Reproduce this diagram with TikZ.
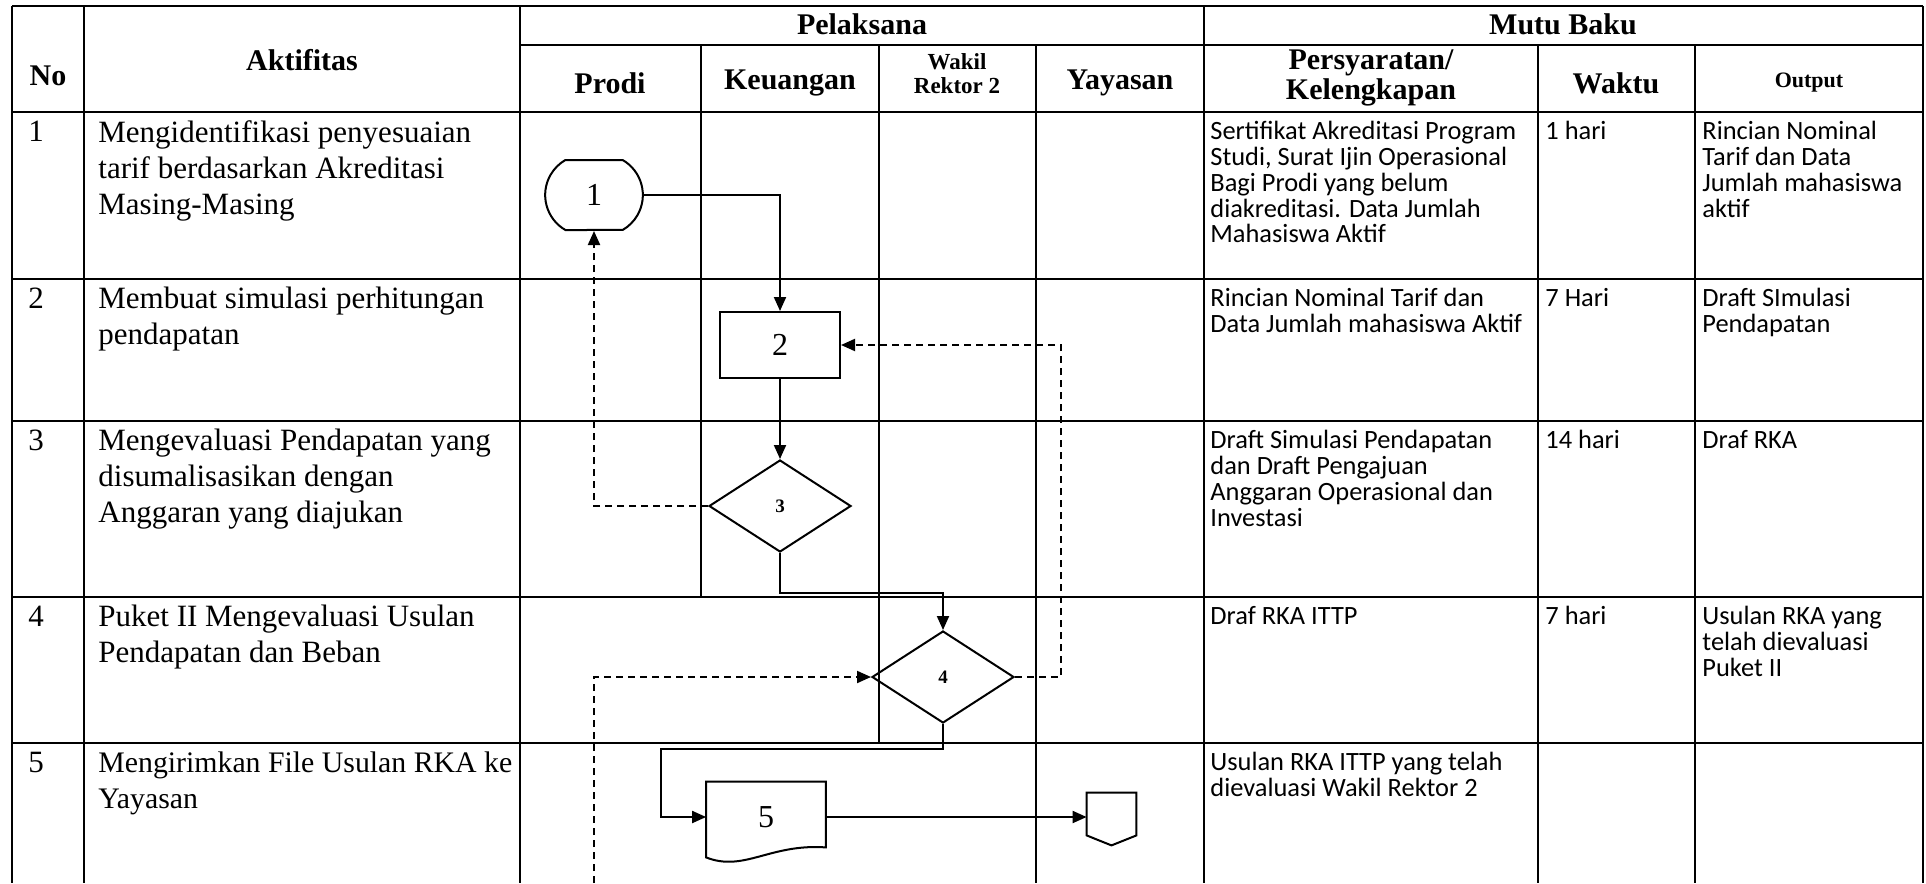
\documentclass[tikz,border=0pt]{standalone}
\usepackage{fontspec}
\setmainfont{Liberation Serif}
\newfontfamily\cbri{Carlito}
\usepackage{tikz}
\usetikzlibrary{arrows.meta,positioning,calc,shapes.geometric,shapes.misc}

\begin{document}
\begin{tikzpicture}[x=0.5pt,y=-0.5pt,
  tbl/.style={line width=1.4pt},
  hd/.style={font=\bfseries\fontsize{15}{13.5}\selectfont,align=center,inner sep=0pt},
  hdsm/.style={font=\bfseries\fontsize{11.5}{12}\selectfont,align=center,inner sep=0pt},
  akt/.style={font=\fontsize{15.5}{18}\selectfont,align=left,anchor=north west,inner sep=0pt},
  mutu/.style={font=\cbri\fontsize{13.2}{12.9}\selectfont,align=left,anchor=north west,inner sep=0pt},
  flow/.style={line width=1pt},
  arr/.style={-{Triangle[length=7pt,width=6pt]}},
  dashln/.style={line width=1pt,dash pattern=on 3.5pt off 2.5pt},
  term/.style={draw,line width=1pt,rounded rectangle,rounded rectangle arc length=120,minimum width=55.5pt,minimum height=35pt,font=\fontsize{16}{18}\selectfont},
  proc/.style={draw,line width=1pt,minimum width=60pt,minimum height=33pt,font=\fontsize{16}{18}\selectfont},
  dec/.style={draw,line width=1pt,diamond,minimum width=71pt,minimum height=46pt,inner sep=0pt,font=\bfseries\fontsize{9.5}{11}\selectfont},
  docbox/.style={minimum width=59.5pt,minimum height=35pt,inner sep=0pt,font=\fontsize{16}{18}\selectfont}]
  \useasboundingbox (0,0) rectangle (1926,883);

  \draw[tbl] (12,6) -- (1923,6);
  \draw[tbl] (520,45) -- (1923,45);
  \foreach \y in {112,279,421,597,743} \draw[tbl] (12,\y) -- (1923,\y);
  \foreach \x in {12,84,520,1204,1923} \draw[tbl] (\x,6) -- (\x,883);
  \foreach \x in {1538,1695} \draw[tbl] (\x,45) -- (\x,883);
  \draw[tbl] (701,45) -- (701,597);
  \draw[tbl] (879,45) -- (879,743);
  \draw[tbl] (1036,45) -- (1036,883);

  \node[hd] (hNo) at (48,76) {No};
  \node[hd] (hAkt) at (302,60) {Aktifitas};
  \node[hd] (hPel) at (862,24) {Pelaksana};
  \node[hd] (hMutu) at (1563,24) {Mutu Baku};
  \node[hd] (hPro) at (610,83) {Prodi};
  \node[hd] (hKeu) at (790,83) {Keuangan};
  \node[hdsm] (hWak) at (957,74) {Wakil\\Rektor 2};
  \node[hd] (hYay) at (1120,83) {Yayasan};
  \node[hd] (hPer) at (1371,78) {Persyaratan/\\Kelengkapan};
  \node[hd] (hWkt) at (1616,83) {Waktu};
  \node[hdsm,font=\bfseries\fontsize{11}{12}\selectfont] (hOut) at (1809,83) {Output};

  \node[akt] (no1) at (28,121) {1};
  \node[akt] (no2) at (28,288) {2};
  \node[akt] (no3) at (28,430) {3};
  \node[akt] (no4) at (28,606) {4};
  \node[akt] (no5) at (28,752) {5};

  \node[akt] (akt1) at (98,120) {Mengidentifikasi penyesuaian\\tarif berdasarkan Akreditasi\\Masing-Masing};
  \node[akt] (akt2) at (98,287) {Membuat simulasi perhitungan\\pendapatan};
  \node[akt] (akt3) at (98,429) {Mengevaluasi Pendapatan yang\\disumalisasikan dengan\\Anggaran yang diajukan};
  \node[akt] (akt4) at (98,605) {Puket II Mengevaluasi Usulan\\Pendapatan dan Beban};
  \node[akt,font=\fontsize{14.9}{18}\selectfont] (akt5) at (98,751) {Mengirimkan File Usulan RKA ke\\Yayasan};

  \node[mutu] (syr1) at (1210,121) {Sertifikat Akreditasi Program\\Studi, Surat Ijin Operasional\\Bagi Prodi yang belum\\diakreditasi. Data Jumlah\\Mahasiswa Aktif};
  \node[mutu] (syr2) at (1210,288) {Rincian Nominal Tarif dan\\Data Jumlah mahasiswa Aktif};
  \node[mutu] (syr3) at (1210,430) {Draft Simulasi Pendapatan\\dan Draft Pengajuan\\Anggaran Operasional dan\\Investasi};
  \node[mutu] (syr4) at (1210,606) {Draf RKA ITTP};
  \node[mutu] (syr5) at (1210,752) {Usulan RKA ITTP yang telah\\dievaluasi Wakil Rektor 2};

  \node[mutu] (wkt1) at (1545,121) {1 hari};
  \node[mutu] (wkt2) at (1545,288) {7 Hari};
  \node[mutu] (wkt3) at (1545,430) {14 hari};
  \node[mutu] (wkt4) at (1545,606) {7 hari};

  \node[mutu] (out1) at (1702,121) {Rincian Nominal\\Tarif dan Data\\Jumlah mahasiswa\\aktif};
  \node[mutu] (out2) at (1702,288) {Draft SImulasi\\Pendapatan};
  \node[mutu] (out3) at (1702,430) {Draf RKA};
  \node[mutu] (out4) at (1702,606) {Usulan RKA yang\\telah dievaluasi\\Puket II};

  \node[term] (n1) at (594,195) {1};
  \node[proc] (n2) at (780,345) {2};
  \node[dec] (n3) at (780,506) {3};
  \node[dec] (n4) at (943,677) {4};
  \node[docbox] (n5) at (766,817) {5};
  \node[docbox,minimum width=24.5pt,minimum height=21pt] (n6) at (1111.5,814) {};
  \coordinate (dIn) at (594,883);

  \draw[flow] (n5.south west) -- (n5.north west) -- (n5.north east) -- ($(n5.south east)+(0,-5)$)
    .. controls ($(n5.south east)+(-56,-9)$) and ($(n5.south west)+(38,20)$) .. ($(n5.south west)+(0,5)$) -- cycle;
  \draw[flow] (n6.south west) -- (n6.north west) -- (n6.north east) -- (n6.south east) -- ($(n6.south)+(0,10)$) -- cycle;

  \draw[flow,arr] (n1.east) -| (n2.north);
  \draw[flow,arr] (n2.south) -- (n3.north);
  \draw[flow,arr] (n3.south) -- ++(0,40) -| (n4.north);
  \draw[dashln,arr] (n3.west) -| (n1.south);
  \draw[dashln,arr] (n4.east) -- ++(46,0) |- (n2.east);
  \draw[dashln,arr] (dIn) |- (n4.west);
  \draw[flow,arr] (n4.south) -- ++(0,25) -| ($(n5.west)+(-45,0)$) -- (n5.west);
  \draw[flow,arr] (n5.east) -- (n5.east -| n6.west);
\end{tikzpicture}
\end{document}
